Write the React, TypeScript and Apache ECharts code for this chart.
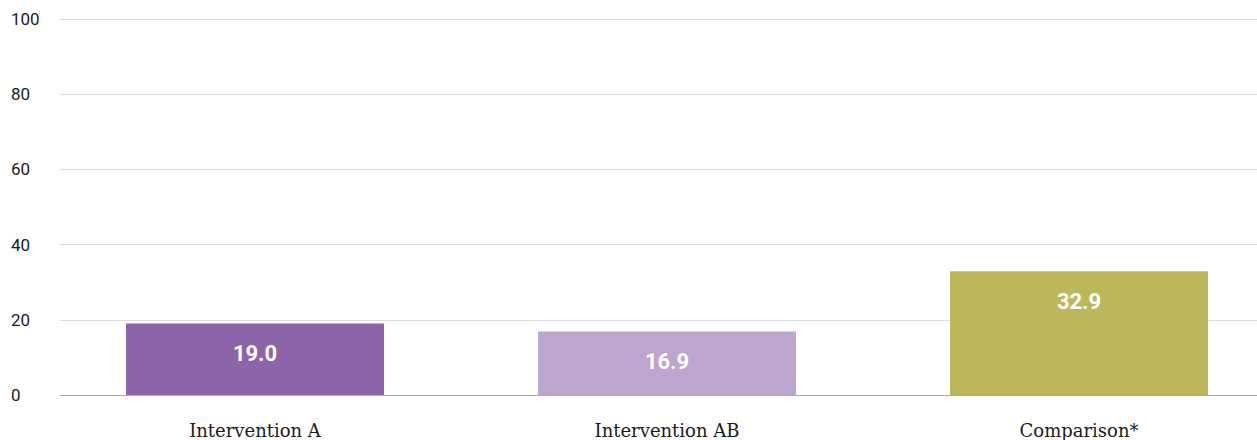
import React, { useEffect, useRef } from "react";
import * as echarts from "echarts";

const categories = ["Intervention A", "Intervention AB", "Comparison*"];
const values = [19.0, 16.9, 32.9];
const barColors = ["#8c64aa", "#bca5cf", "#bdb75b"];
const yTicks = { min: 0, max: 100, interval: 20 };

export default function App() {
  const ref = useRef<HTMLDivElement>(null);
  useEffect(() => {
    if (!ref.current) return;
    const chart = echarts.init(ref.current, undefined, { renderer: "svg" });
    chart.setOption({
      animation: false,
      grid: [
        { left: 60, right: 28, top: 19, bottom: 45 },
        { left: 49, right: 0, top: 19, bottom: 45 },
      ],
      xAxis: [
        {
          gridIndex: 0,
          type: "category",
          data: categories,
          axisLine: { show: true, lineStyle: { color: "#aaaaaa", width: 1 } },
          axisTick: { show: false },
          axisLabel: { show: false },
        },
        {
          gridIndex: 1,
          type: "category",
          data: categories,
          axisLine: { show: false },
          axisTick: { show: false },
          axisLabel: {
            interval: 0,
            margin: 26,
            fontFamily: "DejaVu Serif",
            fontSize: 18,
            color: "#1a1a1a",
          },
        },
      ],
      yAxis: [
        {
          gridIndex: 0,
          type: "value",
          min: yTicks.min,
          max: yTicks.max,
          interval: yTicks.interval,
          axisLine: { show: false },
          axisTick: { show: false },
          splitLine: { lineStyle: { color: "#dddddd", width: 1 } },
          axisLabel: {
            align: "left",
            margin: 49,
            fontFamily: "Roboto",
            fontSize: 17,
            color: "#1a1a1a",
          },
        },
        {
          gridIndex: 1,
          type: "value",
          min: yTicks.min,
          max: yTicks.max,
          interval: yTicks.interval,
          show: false,
          splitLine: { show: false },
        },
      ],
      series: [
        {
          type: "bar",
          xAxisIndex: 1,
          yAxisIndex: 1,
          barWidth: 258,
          data: values.map((v, i) => ({ value: v, itemStyle: { color: barColors[i] } })),
          label: {
            show: true,
            position: "insideTop",
            distance: 19,
            color: "#ffffff",
            fontFamily: "Roboto",
            fontWeight: "bold",
            fontSize: 22,
            formatter: (p: any) => Number(p.value).toFixed(1),
          },
        },
      ],
    });
    return () => chart.dispose();
  }, []);
  return (
    <div
      ref={ref}
      style={{ position: "fixed", left: 0, top: 0, width: 1285, height: 440, background: "#ffffff" }}
    />
  );
}
